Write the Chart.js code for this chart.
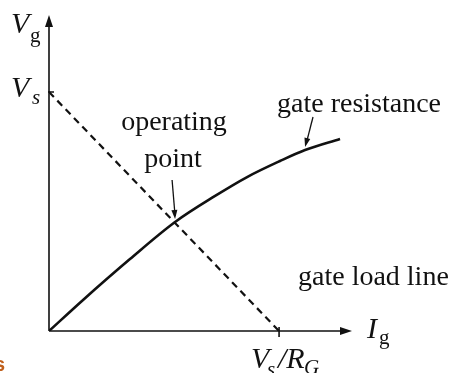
<!DOCTYPE html>
<html>
<head>
<meta charset="utf-8">
<script src="https://cdn.jsdelivr.net/npm/chart.js@4/dist/chart.umd.min.js"></script>
<style>
  html, body { margin: 0; padding: 0; background: #fff; }
  #wrap { width: 455px; height: 373px; }
</style>
</head>
<body>
<div id="wrap"><canvas id="gateChart" width="455" height="373"></canvas></div>
<script>
// units: Vs = 10 on the Vg axis, Vs/RG = 10 on the Ig axis
const Vs = 10;
const VsOverRG = 10;
const curveIg = [0, 1.48, 3.52, 5.48, 7.22, 8.61, 10.04, 11.13, 12.65];
const curveVg = [0, 1.30, 3.01, 4.56, 5.65, 6.44, 7.11, 7.57, 8.03];
const loadIg = [0, VsOverRG];
const loadVg = [Vs, 0];
const opPoint = { x: 5.48, y: 4.56 };
const axisMax = { x: 13.17, y: 13.22 };

const serif = '"Liberation Serif", "DejaVu Serif", serif';

function arrowHead(ctx, x1, y1, x2, y2, len, half) {
  const a = Math.atan2(y2 - y1, x2 - x1);
  ctx.beginPath();
  ctx.moveTo(x2, y2);
  ctx.lineTo(x2 - len * Math.cos(a) + half * Math.sin(a), y2 - len * Math.sin(a) - half * Math.cos(a));
  ctx.lineTo(x2 - len * Math.cos(a) - half * Math.sin(a), y2 - len * Math.sin(a) + half * Math.cos(a));
  ctx.closePath();
  ctx.fill();
}

const decorations = {
  id: 'decorations',
  afterDatasetsDraw(chart) {
    const { ctx, scales: { x, y } } = chart;
    const x0 = x.getPixelForValue(0), y0 = y.getPixelForValue(0);
    const xEnd = x.getPixelForValue(axisMax.x), yEnd = y.getPixelForValue(axisMax.y);
    ctx.save();
    ctx.strokeStyle = '#111';
    ctx.fillStyle = '#111';
    ctx.lineWidth = 1.6;
    ctx.setLineDash([]);
    // axes
    ctx.beginPath();
    ctx.moveTo(x0, y0); ctx.lineTo(xEnd - 4, y0);
    ctx.moveTo(x0, y0); ctx.lineTo(x0, yEnd + 4);
    ctx.stroke();
    arrowHead(ctx, x0, y0, xEnd, y0, 12, 4);
    arrowHead(ctx, x0, y0, x0, yEnd, 12, 4);
    // ticks
    const ty = y.getPixelForValue(Vs), tx = x.getPixelForValue(VsOverRG);
    ctx.beginPath();
    ctx.moveTo(x0 - 1, ty); ctx.lineTo(x0 + 5, ty);
    ctx.moveTo(tx, y0 - 4); ctx.lineTo(tx, y0 + 6);
    ctx.stroke();

    // annotation arrows
    ctx.lineWidth = 1.3;
    const opx = x.getPixelForValue(opPoint.x), opy = y.getPixelForValue(opPoint.y);
    ctx.beginPath(); ctx.moveTo(opx - 3, 180); ctx.lineTo(opx, opy - 6); ctx.stroke();
    arrowHead(ctx, opx - 3, 180, opx, opy - 3, 9, 3);
    const gx = x.getPixelForValue(11.13), gy = y.getPixelForValue(7.57);
    ctx.beginPath(); ctx.moveTo(313, 117); ctx.lineTo(gx + 1, gy - 6); ctx.stroke();
    arrowHead(ctx, 313, 117, gx, gy - 3, 9, 3);

    // labels
    ctx.textBaseline = 'alphabetic';
    ctx.textAlign = 'center';
    ctx.font = '28px ' + serif;
    ctx.fillText('operating', 174, 130);
    ctx.fillText('point', 173, 167);
    ctx.textAlign = 'left';
    ctx.fillText('gate resistance', 277, 112);
    ctx.fillText('gate load line', 298, 285);

    // axis symbols
    ctx.font = 'italic 30px ' + serif;
    ctx.fillText('V', 11, 33);
    ctx.fillText('V', 11, 97);
    ctx.fillText('I', 367, 338);
    ctx.fillText('V', 251, 368);
    ctx.fillText('/R', 278, 368);
    ctx.font = '21px ' + serif;
    ctx.fillText('g', 30, 42);
    ctx.fillText('g', 379, 344);
    ctx.font = 'italic 21px ' + serif;
    ctx.fillText('s', 32, 104);
    ctx.fillText('s', 267, 376);
    ctx.fillText('G', 304, 374);

    // stray orange fragment at the left edge of the crop
    ctx.fillStyle = '#c0601c';
    ctx.font = 'bold 20px "Liberation Sans", sans-serif';
    ctx.fillText('s', -6, 371);
    ctx.restore();
  }
};

new Chart(document.getElementById('gateChart'), {
  type: 'line',
  data: {
    datasets: [
      {
        label: 'gate resistance',
        data: curveIg.map((v, i) => ({ x: v, y: curveVg[i] })),
        borderColor: '#111',
        borderWidth: 2.6,
        cubicInterpolationMode: 'monotone',
        pointRadius: 0,
        fill: false
      },
      {
        label: 'gate load line',
        data: loadIg.map((v, i) => ({ x: v, y: loadVg[i] })),
        borderColor: '#111',
        borderWidth: 2.2,
        borderDash: [7, 5],
        pointRadius: 0,
        fill: false
      }
    ]
  },
  options: {
    responsive: false,
    animation: false,
    layout: { padding: { left: 49, right: 103, top: 15, bottom: 42 } },
    scales: {
      x: { type: 'linear', min: 0, max: axisMax.x, display: false },
      y: { type: 'linear', min: 0, max: axisMax.y, display: false }
    },
    plugins: { legend: { display: false }, tooltip: { enabled: false } }
  },
  plugins: [decorations]
});
</script>
</body>
</html>
